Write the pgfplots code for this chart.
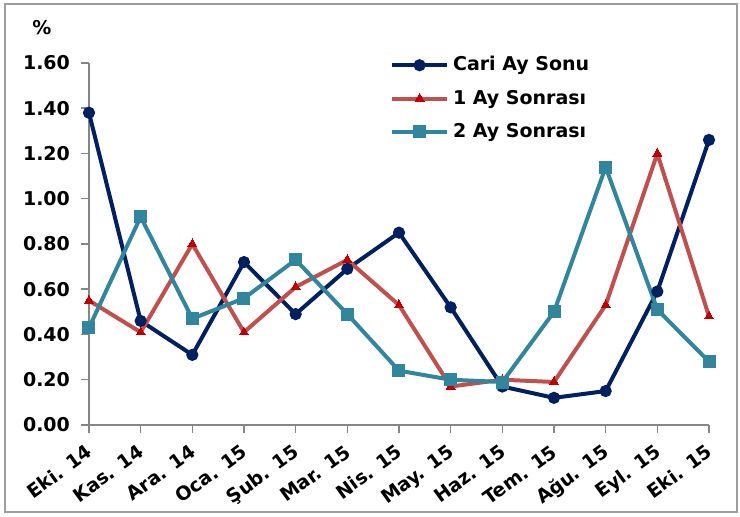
\documentclass[border=0pt]{standalone}
\usepackage{fontspec}
\setmainfont{DejaVu Sans}
\usepackage{pgfplots}
\pgfplotsset{compat=1.18}
\definecolor{navy}{RGB}{0,32,96}
\definecolor{redline}{RGB}{192,80,77}
\definecolor{redmark}{RGB}{192,0,0}
\definecolor{tealc}{RGB}{49,133,156}
\definecolor{axgray}{RGB}{134,134,134}
\begin{document}
\begin{tikzpicture}[font=\fontsize{9.5}{11}\selectfont\bfseries]
\begin{axis}[
scale only axis,
width=310pt, height=181pt,
xmin=0, xmax=12, ymin=0, ymax=1.6,
axis x line=bottom, axis y line=left,
axis line style={axgray, line width=0.75pt, -},
tick style={axgray, line width=0.75pt},
tick align=outside, major tick length=4pt,
xtick={0,...,12},
xticklabels={Eki. 14, Kas. 14, Ara. 14, Oca. 15, Şub. 15, Mar. 15, Nis. 15, May. 15, Haz. 15, Tem. 15, Ağu. 15, Eyl. 15, Eki. 15},
ytick={0,0.2,0.4,0.6,0.8,1.0,1.2,1.4,1.6},
yticklabel style={xshift=-2pt, /pgf/number format/.cd, fixed, fixed zerofill, precision=2, assume math mode=true},
every tick label/.append style={font=\fontsize{9.5}{11}\selectfont\bfseries},
xticklabel style={xshift=2.5pt, yshift=-11pt, rotate=36, anchor=base east, inner sep=0pt},
legend style={draw=none, fill=none, at={(rel axis cs:0.485,1.03)}, anchor=north west,
  font=\fontsize{9.5}{11}\selectfont\bfseries, row sep=4pt, cells={anchor=west}, inner sep=0pt},
legend image code/.code={\draw[mark repeat=2, mark phase=2] plot coordinates {(0pt,0pt) (13.75pt,0pt) (27.5pt,0pt)};},
]
\addplot[navy, line width=2pt, mark=*, mark size=2pt, mark options={fill=navy, draw=navy}] coordinates {
(0,1.38) (1,0.46) (2,0.31) (3,0.72) (4,0.49) (5,0.69) (6,0.85) (7,0.52) (8,0.17) (9,0.12) (10,0.15) (11,0.59) (12,1.26)};
\addlegendentry{Cari Ay Sonu}
\addplot[redline, line width=2pt, mark=triangle*, mark size=2.6pt, mark options={fill=redmark, draw=redmark, line width=0pt}] coordinates {
(0,0.55) (1,0.41) (2,0.80) (3,0.41) (4,0.61) (5,0.73) (6,0.53) (7,0.17) (8,0.20) (9,0.19) (10,0.53) (11,1.20) (12,0.48)};
\addlegendentry{1 Ay Sonrası}
\addplot[tealc, line width=2pt, mark=square*, mark size=3pt, mark options={fill=tealc, draw=tealc, line width=0pt}] coordinates {
(0,0.43) (1,0.92) (2,0.47) (3,0.56) (4,0.73) (5,0.49) (6,0.24) (7,0.20) (8,0.19) (9,0.50) (10,1.14) (11,0.51) (12,0.28)};
\addlegendentry{2 Ay Sonrası}
\end{axis}
\node[anchor=center] at ([shift={(-23.5pt,17.5pt)}]current axis.north west) {\%};
\pgfresetboundingbox
\draw[axgray!80, line width=0.75pt] ([shift={(-42pt,-43.5pt)}]current axis.south west) rectangle ([shift={(14pt,29.5pt)}]current axis.north east);
\path ([shift={(-44.5pt,-46pt)}]current axis.south west) rectangle ([shift={(15.5pt,31.5pt)}]current axis.north east);
\end{tikzpicture}
\end{document}
